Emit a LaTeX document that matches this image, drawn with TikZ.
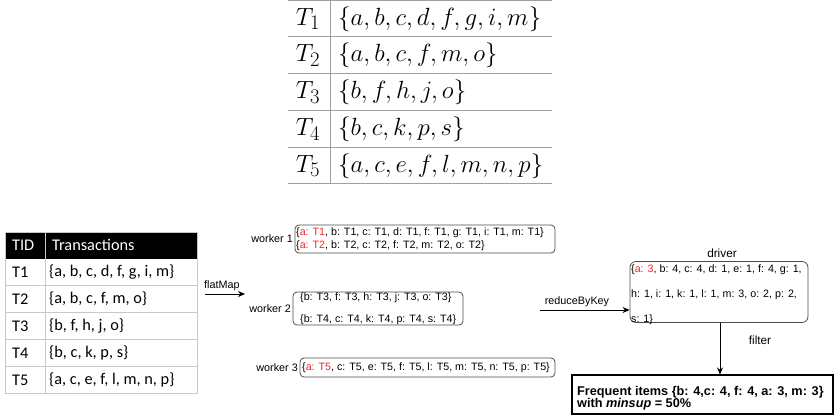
\documentclass[tikz,border=0pt]{standalone}
\usepackage{fontspec}
\usepackage{graphicx}
\newfontfamily\arialf{Liberation Sans}
\newfontfamily\calf{Carlito}
\usetikzlibrary{arrows.meta}
\definecolor{myred}{HTML}{F02828}
\definecolor{tline}{HTML}{A0A0A0}
\definecolor{lline}{HTML}{C8C8C8}
\begin{document}
\begin{tikzpicture}[x=1pt,y=-1pt,
  wbox/.style={draw=black!70, rounded corners=4pt, line width=0.8pt, inner sep=0},
  wtxt/.style={font=\arialf\fontsize{10.7}{12}\selectfont, inner sep=0, anchor=west},
  lbl/.style={font=\arialf\fontsize{10.8}{12}\selectfont, inner sep=0},
  arr/.style={-{Stealth[length=7pt,width=6pt]}, line width=0.8pt},
  mtxt/.style={font=\fontsize{24.88}{25}\selectfont, inner sep=0},
  ctxt/.style={font=\calf\fontsize{16.3}{17}\selectfont, inner sep=0, anchor=west},
]
\useasboundingbox (0,0) rectangle (836,419);

% ---------- top math table ----------
\foreach \yy in {1,37,74,111,148,184} {
  \draw[tline, line width=1pt] (288,\yy) -- (552,\yy);
}
\draw[tline, line width=1pt] (330,0) -- (330,184);
\node[mtxt] (ta1) at (308,19) {$T_1$};
\node[mtxt, anchor=west] (sa1) at (338,19) {$\{a,b,c,d,f,g,i,m\}$};
\node[mtxt] (ta2) at (308,55.5) {$T_2$};
\node[mtxt, anchor=west] (sa2) at (338,55.5) {$\{a,b,c,f,m,o\}$};
\node[mtxt] (ta3) at (308,92.5) {$T_3$};
\node[mtxt, anchor=west] (sa3) at (338,92.5) {$\{b,f,h,j,o\}$};
\node[mtxt] (ta4) at (308,129.5) {$T_4$};
\node[mtxt, anchor=west] (sa4) at (338,129.5) {$\{b,c,k,p,s\}$};
\node[mtxt] (ta5) at (308,166) {$T_5$};
\node[mtxt, anchor=west] (sa5) at (338,166) {$\{a,c,e,f,l,m,n,p\}$};

% ---------- bottom-left table ----------
\fill[black] (5,232) rectangle (197,258.7);
\foreach \yy in {285.7,312.7,339.7,366.7} {
  \draw[lline, line width=0.8pt] (5,\yy) -- (197,\yy);
}
\draw[lline, line width=0.8pt] (5,232) rectangle (197,393.7);
\draw[lline, line width=0.8pt] (45,232) -- (45,393.7);
\node[ctxt, text=white] (hid) at (12,245.3) {TID};
\node[ctxt, text=white] (htr) at (52,245.3) {Transactions};
\node[ctxt] (r1) at (12,272.2) {T1};
\node[ctxt] (s1) at (49,272.2) {\{a, b, c, d, f, g, i, m\}};
\node[ctxt] (r2) at (12,299.2) {T2};
\node[ctxt] (s2) at (49,299.2) {\{a, b, c, f, m, o\}};
\node[ctxt] (r3) at (12,326.2) {T3};
\node[ctxt] (s3) at (49,326.2) {\{b, f, h, j, o\}};
\node[ctxt] (r4) at (12,353.2) {T4};
\node[ctxt] (s4) at (49,353.2) {\{b, c, k, p, s\}};
\node[ctxt] (r5) at (12,380.2) {T5};
\node[ctxt] (s5) at (49,380.2) {\{a, c, e, f, l, m, n, p\}};

% ---------- flatMap ----------
\coordinate (fm0) at (205,294);
\coordinate (fm1) at (245,294);
\draw[arr] (fm0) -- (fm1);
\node[lbl, anchor=south west] (fml) at (204,291) {flatMap};

% ---------- workers ----------
\node[wbox, minimum width=260pt, minimum height=28pt] (w1) at (425,239) {};
\node[lbl, anchor=east] (w1l) at (293,239) {worker 1};
\node[wtxt] (w1a) at (296,233) {\{\textcolor{myred}{a: T1}, b: T1, c: T1, d: T1, f: T1, g: T1, i: T1, m: T1\}};
\node[wtxt] (w1b) at (296,246) {\{\textcolor{myred}{a: T2}, b: T2, c: T2, f: T2, m: T2, o: T2\}};

\node[wbox, minimum width=170pt, minimum height=33pt] (w2) at (378,308.5) {};
\node[lbl, anchor=east] (w2l) at (291,308.5) {worker 2};
\node[wtxt] (w2a) at (300,297.5) {\{b: T3, f: T3, h: T3, j: T3, o: T3\}};
\node[wtxt] (w2b) at (300,320) {\{b: T4, c: T4, k: T4, p: T4, s: T4\}};

\node[wbox, minimum width=255pt, minimum height=19pt] (w3) at (427.5,367.5) {};
\node[lbl, anchor=east] (w3l) at (298,367.5) {worker 3};
\node[wtxt] (w3a) at (302,367.5) {\{\textcolor{myred}{a: T5}, c: T5, e: T5, f: T5, l: T5, m: T5, n: T5, p: T5\}};

% ---------- reduceByKey ----------
\node[wbox, minimum width=178pt, minimum height=61pt, rounded corners=6pt] (drv) at (719,292) {};
\node[lbl, font=\arialf\fontsize{11.8}{12}\selectfont] (drvl) at (722,253) {driver};
\node[wtxt] (d1) at (631,270) {\{\textcolor{myred}{a: 3}, b: 4, c: 4, d: 1, e: 1, f: 4, g: 1,};
\node[wtxt] (d2) at (631,295) {h: 1, i: 1, k: 1, l: 1, m: 3, o: 2, p: 2,};
\node[wtxt] (d3) at (631,320) {s: 1\}};
\coordinate (rb0) at (540,310);
\draw[arr] (rb0) -- (drv.west |- rb0);
\node[lbl, anchor=south] (rbl) at (577,307) {reduceByKey};

% ---------- filter ----------
\node[draw=black, line width=1.1pt, minimum width=261pt, minimum height=39pt, inner sep=0] (fi) at (702.5,394.5) {};
\node[font=\arialf\bfseries\fontsize{12.7}{12}\selectfont, align=left, inner sep=0, anchor=west] (fit) at (577,398.5)
  {Frequent items \{b: 4,c: 4, f: 4, a: 3, m: 3\}\\with \textit{minsup} = 50\%};
\draw[arr] (drv.south -| 720,0) -- (fi.north -| 720,0);
\node[lbl, font=\arialf\fontsize{11.8}{12}\selectfont] (fl) at (760,340.5) {filter};
\end{tikzpicture}
\end{document}
